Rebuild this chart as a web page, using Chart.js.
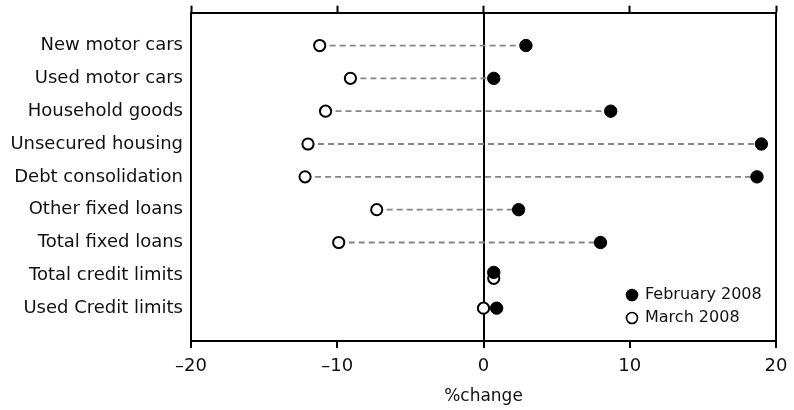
<!DOCTYPE html>
<html>
<head>
<meta charset="utf-8">
<title>Loan approvals % change</title>
<script src="https://cdn.jsdelivr.net/npm/chart.js@4.4.1/dist/chart.umd.min.js"></script>
<style>
body { margin: 0; background: #fff; }
#wrap { width: 794px; height: 410px; }
</style>
</head>
<body>
<div id="wrap"><canvas id="dot-chart" width="794" height="410"></canvas></div>
<script type="text/javascript">
var categories = ["New motor cars", "Used motor cars", "Household goods", "Unsecured housing",
  "Debt consolidation", "Other fixed loans", "Total fixed loans", "Total credit limits", "Used Credit limits"];
var feb2008 = [2.9, 0.7, 8.7, 19.0, 18.7, 2.4, 8.0, 0.7, 0.9];
var mar2008 = [-11.2, -9.1, -10.8, -12.0, -12.2, -7.3, -9.9, 0.7, 0.0];
var xTicks = [-20, -10, 0, 10, 20];

var FONT = "'DejaVu Sans', sans-serif";

// nudge rows where both dots sit on top of each other
function rowY(i, which) {
  var y = i + 1;
  if (Math.abs(feb2008[i] - mar2008[i]) < 0.3) y += (which === 'feb' ? -0.09 : 0.09);
  return y;
}

var febPoints = [], marPoints = [];
for (var i = 0; i < categories.length; i++) {
  febPoints.push({ x: feb2008[i], y: rowY(i, 'feb') });
  marPoints.push({ x: mar2008[i], y: rowY(i, 'mar') });
}

var dashLines = {
  id: 'dashLines',
  beforeDatasetsDraw: function (chart) {
    var ctx = chart.ctx, xs = chart.scales.x, ys = chart.scales.y;
    ctx.save();
    ctx.strokeStyle = '#858585';
    ctx.lineWidth = 1.8;
    ctx.setLineDash([6, 4]);
    for (var i = 0; i < categories.length; i++) {
      var py = ys.getPixelForValue(i + 1);
      ctx.beginPath();
      ctx.moveTo(xs.getPixelForValue(mar2008[i]), py);
      ctx.lineTo(xs.getPixelForValue(feb2008[i]), py);
      ctx.stroke();
    }
    ctx.restore();
  }
};

var boxLegend = {
  id: 'boxLegend',
  afterDatasetsDraw: function (chart) {
    var ctx = chart.ctx, a = chart.chartArea;
    var x0 = a.right - 144;
    var items = chart.data.datasets;
    ctx.save();
    ctx.font = '16px ' + FONT;
    ctx.textBaseline = 'middle';
    ctx.textAlign = 'left';
    for (var k = 0; k < items.length; k++) {
      var y = a.bottom - 46 + k * 23;
      ctx.beginPath();
      ctx.arc(x0, y, 5.5, 0, Math.PI * 2);
      ctx.fillStyle = items[k].backgroundColor;
      ctx.fill();
      ctx.lineWidth = 1.6;
      ctx.strokeStyle = '#000';
      ctx.stroke();
      ctx.fillStyle = '#111';
      ctx.fillText(items[k].label, x0 + 13, y);
    }
    ctx.restore();
  }
};

new Chart(document.getElementById("dot-chart"), {
  type: 'scatter',
  data: {
    datasets: [
      {
        label: "February 2008",
        data: febPoints,
        backgroundColor: '#000',
        borderColor: '#000',
        borderWidth: 1,
        pointRadius: 6.2
      },
      {
        label: "March 2008",
        data: marPoints,
        backgroundColor: '#fff',
        borderColor: '#000',
        borderWidth: 2,
        pointRadius: 5.6
      }
    ]
  },
  options: {
    responsive: false,
    animation: false,
    layout: { padding: 0 },
    plugins: {
      legend: { display: false },
      tooltip: { enabled: false }
    },
    scales: {
      x: {
        type: 'linear',
        position: 'bottom',
        min: -20, max: 20,
        afterBuildTicks: function (s) { s.ticks = xTicks.map(function (v) { return { value: v }; }); },
        afterFit: function (s) { s.height = 69; s.paddingLeft = 0; s.paddingRight = 0; },
        border: { display: true, color: '#000', width: 2 },
        grid: {
          color: function (c) { return c.tick && c.tick.value === 0 ? '#000' : 'rgba(0,0,0,0)'; },
          lineWidth: 2,
          tickColor: '#000',
          tickLength: 7,
          tickWidth: 2
        },
        ticks: {
          padding: 8,
          color: '#111',
          font: { family: FONT, size: 18 },
          callback: function (v) { return v < 0 ? '\u2013' + Math.abs(v) : String(v); }
        },
        title: {
          display: true,
          text: '%change',
          color: '#111',
          font: { family: FONT, size: 17 },
          padding: { top: 0, bottom: 3 }
        }
      },
      x2: {
        type: 'linear',
        position: 'top',
        min: -20, max: 20,
        afterBuildTicks: function (s) { s.ticks = xTicks.map(function (v) { return { value: v }; }); },
        afterFit: function (s) { s.height = 12.7; s.paddingLeft = 0; s.paddingRight = 0; },
        border: { display: true, color: '#000', width: 2 },
        grid: { drawOnChartArea: false, tickColor: '#000', tickLength: 7, tickWidth: 2 },
        ticks: { display: false }
      },
      y: {
        type: 'linear',
        position: 'left',
        reverse: true,
        min: 0, max: 10,
        afterBuildTicks: function (s) {
          s.ticks = categories.map(function (c, i) { return { value: i + 1 }; });
        },
        afterFit: function (s) { s.width = 191; s.paddingTop = 0; s.paddingBottom = 0; },
        border: { display: true, color: '#000', width: 2 },
        grid: { drawOnChartArea: false, drawTicks: false },
        ticks: {
          padding: 8,
          color: '#111',
          font: { family: FONT, size: 18 },
          callback: function (v) { return categories[v - 1] || ''; }
        }
      },
      y2: {
        type: 'linear',
        position: 'right',
        min: 0, max: 10,
        afterFit: function (s) { s.width = 18; s.paddingTop = 0; s.paddingBottom = 0; },
        border: { display: true, color: '#000', width: 2 },
        grid: { drawOnChartArea: false, drawTicks: false },
        ticks: { display: false }
      }
    }
  },
  plugins: [dashLines, boxLegend]
});
</script>
</body>
</html>
